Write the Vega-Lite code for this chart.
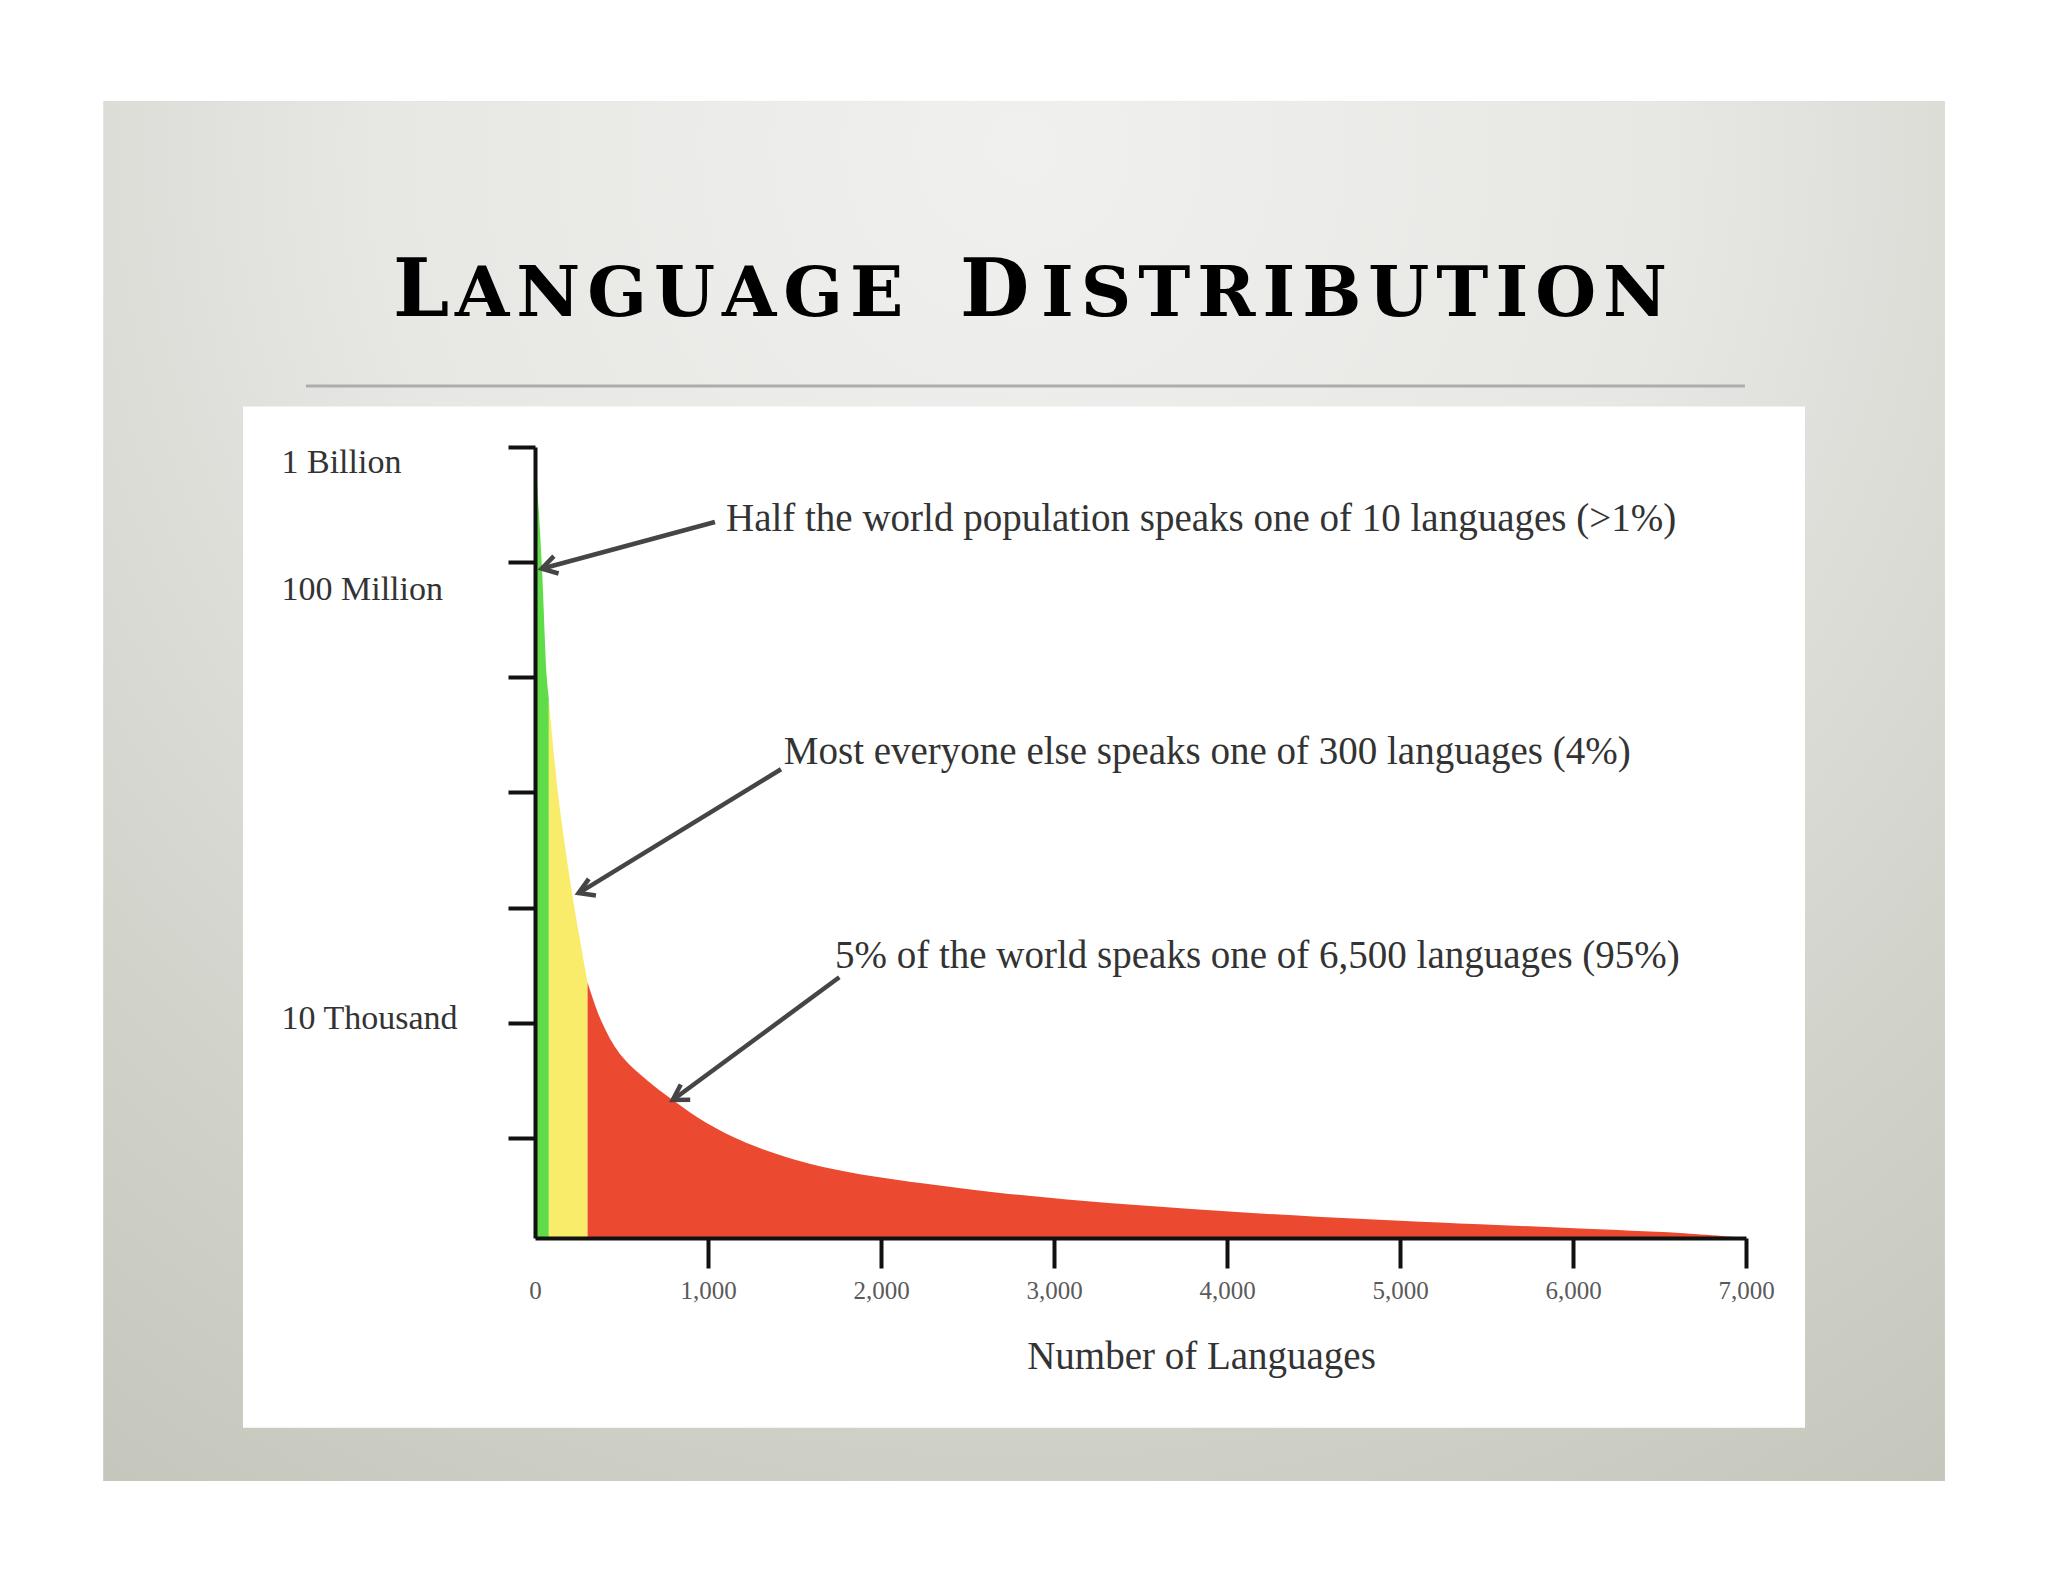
{
  "$schema": "https://vega.github.io/schema/vega-lite/v6.json",
  "width": 1211,
  "height": 791,
  "autosize": {"type": "none"},
  "padding": {"left": 535, "top": 447, "right": 302, "bottom": 344},
  "background": "#ffffff",
  "config": {"view": {"stroke": null}},
  "datasets": {
    "curve": [
      {"languages": 0, "speakers": 1000000000, "band": "green"},
      {"languages": 39, "speakers": 98000000, "band": "green"},
      {"languages": 68, "speakers": 10000000, "band": "green"},
      {"languages": 80, "speakers": 6500000, "band": "green"},
      {"languages": 80, "speakers": 6500000, "band": "yellow"},
      {"languages": 133, "speakers": 980000, "band": "yellow"},
      {"languages": 214, "speakers": 134000, "band": "yellow"},
      {"languages": 250, "speakers": 63900, "band": "yellow"},
      {"languages": 304, "speakers": 22400, "band": "yellow"},
      {"languages": 304, "speakers": 22400, "band": "red"},
      {"languages": 386, "speakers": 10150, "band": "red"},
      {"languages": 491, "speakers": 5350, "band": "red"},
      {"languages": 646, "speakers": 3180, "band": "red"},
      {"languages": 796, "speakers": 2132, "band": "red"},
      {"languages": 992, "speakers": 1346, "band": "red"},
      {"languages": 1224, "speakers": 902, "band": "red"},
      {"languages": 1551, "speakers": 617, "band": "red"},
      {"languages": 1840, "speakers": 495, "band": "red"},
      {"languages": 2226, "speakers": 405, "band": "red"},
      {"languages": 2590, "speakers": 346, "band": "red"},
      {"languages": 3075, "speakers": 291, "band": "red"},
      {"languages": 3555, "speakers": 256, "band": "red"},
      {"languages": 4034, "speakers": 228, "band": "red"},
      {"languages": 4520, "speakers": 207, "band": "red"},
      {"languages": 5000, "speakers": 191, "band": "red"},
      {"languages": 5462, "speakers": 178, "band": "red"},
      {"languages": 6040, "speakers": 163, "band": "red"},
      {"languages": 6618, "speakers": 149, "band": "red"},
      {"languages": 7000, "speakers": 135, "band": "red"}
    ],
    "notes": [
      {"note": "Half the world population speaks one of 10 languages (>1%)", "languages": 1104, "speakers": 185500000},
      {"note": "Most everyone else speaks one of 300 languages (4%)", "languages": 1438, "speakers": 1778000},
      {"note": "5% of the world speaks one of 6,500 languages (95%)", "languages": 1734, "speakers": 29660}
    ],
    "arrows": [
      {"id": "a", "languages": 1040, "speakers": 223000000, "toLanguages": 39, "toSpeakers": 87700000},
      {"id": "b", "languages": 1422, "speakers": 1590000, "toLanguages": 252, "toSpeakers": 133600},
      {"id": "c", "languages": 1759, "speakers": 24800, "toLanguages": 796, "toSpeakers": 2133}
    ],
    "title": [
      {"text": "L", "languages": -821, "speakers": 13630000000, "kind": "cap"},
      {"text": "A\u200aN\u200aG\u200aU\u200aA\u200aG\u200aE", "languages": -462, "speakers": 13630000000, "kind": "small"},
      {"text": "D", "languages": 2457, "speakers": 13630000000, "kind": "cap"},
      {"text": "I\u200aS\u200aT\u200aR\u200aI\u200aB\u200aU\u200aT\u200aI\u200aO\u200aN", "languages": 2925, "speakers": 13630000000, "kind": "small"}
    ]
  },
  "layer": [
    {
      "data": {"values": [{}]},
      "mark": {
        "type": "rect",
        "color": {
          "gradient": "radial",
          "x1": 0.5, "y1": 0.15, "r1": 0,
          "x2": 0.5, "y2": 0.15, "r2": 1,
          "stops": [
            {"offset": 0, "color": "#f0f0ee"},
            {"offset": 0.35, "color": "#e7e7e4"},
            {"offset": 0.65, "color": "#d2d3cb"},
            {"offset": 1, "color": "#bec0b4"}
          ]
        }
      },
      "encoding": {
        "x": {
          "datum": -2496, "type": "quantitative",
          "scale": {"domain": [0, 7000], "nice": false, "zero": false},
          "axis": {
            "values": [0, 1000, 2000, 3000, 4000, 5000, 6000, 7000],
            "format": ",d",
            "grid": false,
            "domainColor": "#111111", "domainWidth": 4,
            "tickColor": "#111111", "tickWidth": 4, "tickSize": 30,
            "tickOpacity": {"condition": {"test": "datum.value == 0", "value": 0}, "value": 1},
            "labelFont": "Liberation Serif", "labelFontSize": 25, "labelColor": "#5a5a5a", "labelPadding": 10,
            "labelFlush": false, "labelOverlap": false,
            "title": "Number of Languages",
            "titleFont": "Liberation Serif", "titleFontSize": 39, "titleFontWeight": "normal", "titleColor": "#333333",
            "titleX": 666, "titleY": 130, "titleBaseline": "alphabetic", "titleAlign": "center",
            "zindex": 1
          }
        },
        "x2": {"datum": 8150},
        "y": {
          "datum": 1.047, "type": "quantitative",
          "scale": {"type": "log", "domain": [135, 1000000000], "nice": false},
          "axis": {
            "values": [1000, 10000, 100000, 1000000, 10000000, 100000000, 1000000000],
            "labelExpr": "datum.value == 1000000000 ? '1 Billion' : datum.value == 100000000 ? '100 Million' : datum.value == 10000 ? '10 Thousand' : ''",
            "labelAlign": "left", "labelBaseline": "alphabetic", "labelPadding": 227,
            "labelOffset": {"condition": [{"test": "datum.value == 1000000000", "value": 25}, {"test": "datum.value == 100000000", "value": 37}], "value": 6},
            "labelFont": "Liberation Serif", "labelFontSize": 34, "labelColor": "#333333",
            "labelOverlap": false, "labelFlush": false, "labelBound": false,
            "grid": false,
            "domainColor": "#111111", "domainWidth": 4,
            "tickColor": "#111111", "tickWidth": 4, "tickSize": 27,
            "title": null,
            "zindex": 1
          }
        },
        "y2": {"datum": 1010000000000}
      }
    },
    {
      "data": {"values": [{}]},
      "mark": {"type": "rect", "color": "#ffffff"},
      "encoding": {
        "x": {"datum": -1688, "type": "quantitative", "scale": {"domain": [0, 7000], "nice": false, "zero": false}},
        "x2": {"datum": 7341},
        "y": {"datum": 3.03, "type": "quantitative", "scale": {"type": "log", "domain": [135, 1000000000], "nice": false}},
        "y2": {"datum": 2250000000}
      }
    },
    {
      "data": {"values": [{}]},
      "mark": {"type": "rule", "color": "#adadad", "strokeWidth": 3},
      "encoding": {
        "x": {"datum": -1324, "type": "quantitative", "scale": {"domain": [0, 7000], "nice": false, "zero": false}},
        "x2": {"datum": 6994},
        "y": {"datum": 3384000000, "type": "quantitative", "scale": {"type": "log", "domain": [135, 1000000000], "nice": false}}
      }
    },
    {
      "data": {"name": "title"},
      "mark": {"type": "text", "font": "DejaVu Serif", "fontWeight": "bold", "align": "left", "baseline": "alphabetic", "color": "#000000"},
      "encoding": {
        "x": {"field": "languages", "type": "quantitative", "scale": {"domain": [0, 7000], "nice": false, "zero": false}},
        "y": {"field": "speakers", "type": "quantitative", "scale": {"type": "log", "domain": [135, 1000000000], "nice": false}},
        "text": {"field": "text"},
        "size": {"field": "kind", "type": "nominal", "scale": {"domain": ["cap", "small"], "range": [80, 70]}, "legend": null}
      }
    },
    {
      "data": {"name": "curve"},
      "mark": {"type": "area", "interpolate": "catmull-rom"},
      "encoding": {
        "x": {"field": "languages", "type": "quantitative", "scale": {"domain": [0, 7000], "nice": false, "zero": false}},
        "y": {"field": "speakers", "type": "quantitative", "stack": null, "scale": {"type": "log", "domain": [135, 1000000000], "nice": false}},
        "y2": {"datum": 135},
        "color": {"field": "band", "type": "nominal", "scale": {"domain": ["green", "yellow", "red"], "range": ["#5fdc48", "#f8ec6a", "#eb4a31"]}, "legend": null}
      }
    },
    {
      "data": {"name": "arrows"},
      "mark": {"type": "rule", "color": "#454545", "strokeWidth": 4.5},
      "encoding": {
        "x": {"field": "languages", "type": "quantitative", "scale": {"domain": [0, 7000], "nice": false, "zero": false}},
        "x2": {"field": "toLanguages"},
        "y": {"field": "speakers", "type": "quantitative", "scale": {"type": "log", "domain": [135, 1000000000], "nice": false}},
        "y2": {"field": "toSpeakers"}
      }
    },
    {
      "data": {"name": "arrows"},
      "mark": {"type": "point", "shape": "M -1 -0.6 L 0 0 L -1 0.6", "filled": false, "stroke": "#454545", "strokeWidth": 4.5, "size": 900, "opacity": 1, "strokeJoin": "miter"},
      "encoding": {
        "x": {"field": "toLanguages", "type": "quantitative", "scale": {"domain": [0, 7000], "nice": false, "zero": false}},
        "y": {"field": "toSpeakers", "type": "quantitative", "scale": {"type": "log", "domain": [135, 1000000000], "nice": false}},
        "angle": {"field": "id", "type": "nominal", "scale": {"domain": ["a", "b", "c"], "range": [164.9, 148.5, 143.6]}, "legend": null}
      }
    },
    {
      "data": {"name": "notes"},
      "mark": {"type": "text", "font": "Liberation Serif", "fontSize": 39, "align": "left", "baseline": "alphabetic", "color": "#333333"},
      "encoding": {
        "x": {"field": "languages", "type": "quantitative", "scale": {"domain": [0, 7000], "nice": false, "zero": false}},
        "y": {"field": "speakers", "type": "quantitative", "scale": {"type": "log", "domain": [135, 1000000000], "nice": false}},
        "text": {"field": "note"}
      }
    }
  ]
}
